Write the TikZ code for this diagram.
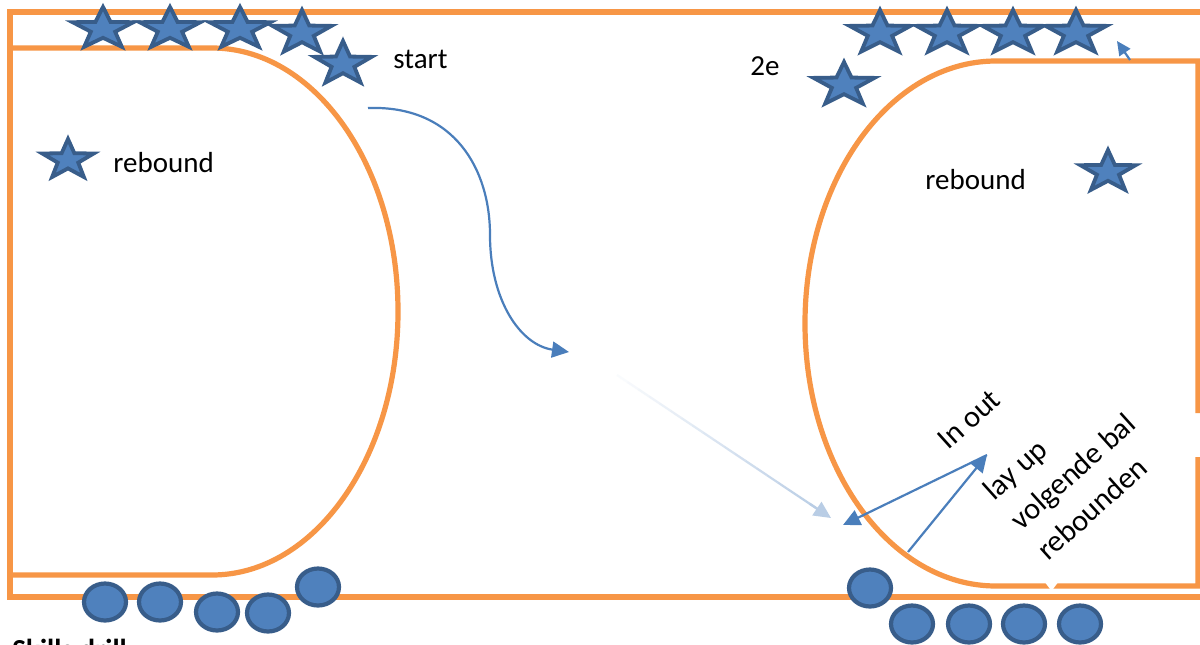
\documentclass[tikz,border=0pt]{standalone}
\usepackage{fontspec}
\setmainfont{Carlito}
\usetikzlibrary{arrows.meta,calc}
\definecolor{court}{HTML}{F79646}
\definecolor{pfill}{HTML}{4F81BD}
\definecolor{pline}{HTML}{385D8A}
\definecolor{arrblue}{HTML}{4A7EBB}
\definecolor{fadeblue}{HTML}{B9CDE5}
\newcommand{\pstar}[4]{\path[player,shift={(#1,#2)},xscale=#3,yscale=#4]
  (0,-1) -- (0.235,-0.324) -- (0.951,-0.309) -- (0.380,0.124) -- (0.588,0.809)
  -- (0,0.4) -- (-0.588,0.809) -- (-0.380,0.124) -- (-0.951,-0.309) -- (-0.235,-0.324) -- cycle;}
\newcommand{\pball}[2]{\path[ball,shift={(#1,#2)},xscale=21,yscale=18.5] (0,0) circle[radius=1];}
\begin{document}
\begin{tikzpicture}[x=0.5pt,y=-0.5pt,
  courtline/.style={draw=court,line width=2.6pt,line join=miter},
  player/.style={draw=pline,fill=pfill,line width=1.9pt,line join=miter},
  ball/.style={draw=pline,fill=pfill,line width=2.1pt},
  lbl/.style={font=\fontsize{14.5}{17}\selectfont,inner sep=0pt,anchor=base west},
  rlbl/.style={font=\fontsize{15.2}{20.2}\selectfont,inner sep=0pt,rotate=42,anchor=base west,align=left},
  move/.style={draw=arrblue,line width=1.1pt,-{Triangle[length=8.5pt,width=8pt]}},
]
\useasboundingbox (0,0) rectangle (1200,644);
\fill[white] (0,0) rectangle (1200,644);

% outer court
\draw[courtline] (1200,12) -- (10,12) -- (10,597) -- (1200,597);
% left key
\draw[courtline] (10,48) -- (212,48)
  .. controls (314.7,48) and (398,166) .. (398,311.5)
  .. controls (398,457) and (314.7,575) .. (212,575) -- (10,575);
% right key
\draw[courtline] (1198,413) -- (1198,61) -- (996,61)
  .. controls (890.5,61) and (805,178.5) .. (805,323.5)
  .. controls (805,468.5) and (890.5,586) .. (996,586) -- (1198,586) -- (1198,457);
\fill[white] (1044,581) -- (1059,581) -- (1051.5,591) -- cycle;

% players (stars)
\pstar{103}{29}{32}{22}
\pstar{170}{29}{32}{22}
\pstar{240}{29}{32}{22}
\pstar{302}{33}{31}{23}
\pstar{343}{64}{30}{23}
\pstar{68}{160}{27}{21}
\pstar{880}{33}{32}{23}
\pstar{947}{33}{32}{23}
\pstar{1013}{33}{32}{23}
\pstar{1076}{33}{32}{23}
\pstar{844}{85}{32}{23}
\pstar{1108}{172}{29}{22}

% balls
\pball{105}{602}
\pball{160}{602}
\pball{217}{612}
\pball{268}{613}
\pball{318}{587}
\pball{870}{588}
\pball{912}{624}
\pball{969}{624}
\pball{1024}{624}
\pball{1080}{624}

% labels
\node[lbl] (start) at (393,68) {start};
\node[lbl] (twoe) at (750,75) {2e};
\node[lbl] (rebL) at (113,172) {rebound};
\node[lbl] (rebR) at (925,189) {rebound};
\node[rlbl] (inout) at (1048,562) {In out\\[14pt]lay up\\volgende bal\\rebounden};
\node[lbl,font=\fontsize{14.5}{17}\selectfont\bfseries] (skills) at (12,659) {Skills drill};

% movement arrows
\coordinate (c1s) at (368,108);
\coordinate (c1e) at (569,352);
\draw[move] (c1s) .. controls (455,105) and (490,170) .. (490,235)
  .. controls (490,300) and (520,345) .. (c1e);

\coordinate (FA) at (617,375);
\coordinate (FB) at (831,518);
\foreach \i in {0,...,18}{
  \pgfmathtruncatemacro\p{5*\i+8}
  \draw[line width=1.1pt,draw=fadeblue!\p!white] ($(FA)!{\i/20}!(FB)$) -- ($(FA)!{(\i+1)/20}!(FB)$);
}
\draw[line width=1.1pt,draw=fadeblue,-{Triangle[length=8.5pt,width=8pt]}] ($(FA)!0.9!(FB)$) -- (FB);

\coordinate (IO) at (987,455);
\coordinate (T1) at (843,525);
\coordinate (L0) at (908,552);
\draw[move] (IO) -- (T1);
\draw[move] (L0) -- (IO);

\coordinate (s1) at (1130,60);
\coordinate (s2) at (1117,41);
\draw[move,-{Triangle[length=7pt,width=6.5pt]}] (s1) -- (s2);
\end{tikzpicture}
\end{document}
